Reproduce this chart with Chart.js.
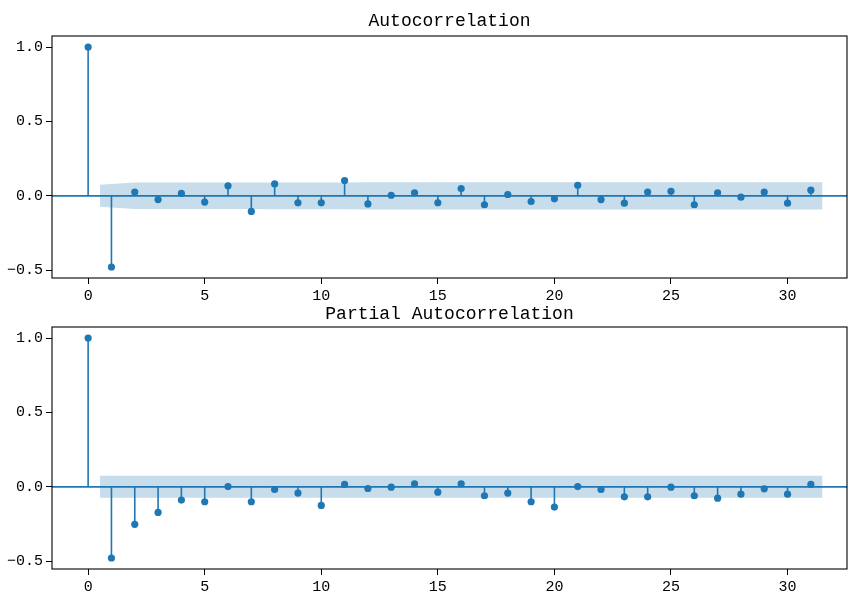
<!DOCTYPE html>
<html>
<head>
<meta charset="utf-8">
<script src="https://cdn.jsdelivr.net/npm/chart.js@4.4.1/dist/chart.umd.min.js"></script>
<style>
  html, body { margin: 0; padding: 0; background: #fff; }
  #wrap { position: relative; width: 849px; height: 594px; overflow: hidden; }
  .box { position: absolute; left: 0; width: 849px; }
  #topBox { top: 0; height: 310px; }
  #botBox { top: 297px; height: 297px; }
</style>
</head>
<body>
<div id="wrap">
  <div class="box" id="topBox"><canvas id="acfChart"></canvas></div>
  <div class="box" id="botBox"><canvas id="pacfChart"></canvas></div>
</div>
<script>
// data baca dari gambar
const lags = [0, 1, 2, 3, 4, 5, 6, 7, 8, 9, 10, 11, 12, 13, 14, 15, 16, 17, 18, 19, 20, 21, 22, 23, 24, 25, 26, 27, 28, 29, 30, 31];

const acfValues = [1.0, -0.478, 0.025, -0.025, 0.016, -0.042, 0.067, -0.105, 0.080, -0.047, -0.047,
    0.103, -0.054, 0.004, 0.020, -0.047, 0.049, -0.060, 0.009, -0.038, -0.020,
    0.071, -0.025, -0.049, 0.025, 0.031, -0.060, 0.020, -0.009, 0.025, -0.049, 0.038];

const pacfValues = [1.0, -0.478, -0.252, -0.172, -0.089, -0.100, 0.002, -0.100, -0.018, -0.042, -0.125,
    0.016, -0.011, -0.002, 0.020, -0.036, 0.020, -0.060, -0.042, -0.100, -0.136,
    0.002, -0.018, -0.067, -0.067, -0.002, -0.060, -0.076, -0.049, -0.013, -0.049, 0.016];

// posisi pita confidence (lag 1 geser ke 0.5, lag terakhir ke 31.5)
const bandLags = [0.5, 2, 3, 4, 5, 6, 7, 8, 9, 10, 11, 12, 13, 14, 15, 16, 17, 18, 19, 20,
    21, 22, 23, 24, 25, 26, 27, 28, 29, 30, 31.5];

const acfBand = [0.074, 0.089, 0.089, 0.089, 0.089, 0.089, 0.089, 0.090, 0.090, 0.090, 0.090,
    0.091, 0.091, 0.091, 0.091, 0.091, 0.091, 0.091, 0.092, 0.092, 0.092,
    0.092, 0.092, 0.092, 0.092, 0.092, 0.092, 0.092, 0.092, 0.092, 0.092];

const pacfBand = [0.074, 0.074, 0.074, 0.074, 0.074, 0.074, 0.074, 0.074, 0.074, 0.074, 0.074,
    0.074, 0.074, 0.074, 0.074, 0.074, 0.074, 0.074, 0.074, 0.074, 0.074,
    0.074, 0.074, 0.074, 0.074, 0.074, 0.074, 0.074, 0.074, 0.074, 0.074];

const xTicks = [0, 5, 10, 15, 20, 25, 30];
const yTicks = [-0.5, 0.0, 0.5, 1.0];
const xMin = -1.55, xMax = 32.55;
const yMin = -0.552, yMax = 1.074;

const blue = '#1f77b4';
const bandColor = 'rgba(31, 119, 180, 0.25)';
const tickFont = { family: 'Liberation Mono', size: 15 };
const titleFont = { family: 'Liberation Mono', size: 18, weight: 'normal' };

// kotak frame di sekeliling area chart
const framePlugin = {
    id: 'frame',
    afterDraw(chart) {
        const a = chart.chartArea;
        const ctx = chart.ctx;
        ctx.save();
        ctx.strokeStyle = '#000';
        ctx.lineWidth = 1.1;
        ctx.strokeRect(a.left, a.top, a.right - a.left, a.bottom - a.top);
        ctx.restore();
    }
};

function makeChart(id, title, values, band, titlePad, xHeight) {
    var stems = [];
    var points = [];
    for (var i = 0; i < lags.length; i++) {
        stems.push({ x: lags[i], y: 0 });
        stems.push({ x: lags[i], y: values[i] });
        stems.push({ x: lags[i], y: null });
        points.push({ x: lags[i], y: values[i] });
    }
    var upper = [], lower = [];
    for (var j = 0; j < bandLags.length; j++) {
        upper.push({ x: bandLags[j], y: band[j] });
        lower.push({ x: bandLags[j], y: -band[j] });
    }

    const ctx = document.getElementById(id).getContext('2d');
    return new Chart(ctx, {
        type: 'scatter',
        data: {
            datasets: [{
                    type: 'scatter',
                    data: points,
                    backgroundColor: blue,
                    borderColor: blue,
                    pointRadius: 3.6,
                    borderWidth: 0
                },
                {
                    type: 'line',
                    data: stems,
                    borderColor: blue,
                    borderWidth: 1.6,
                    pointRadius: 0,
                    spanGaps: false,
                    fill: false
                },
                {
                    type: 'line',
                    data: [{ x: xMin, y: 0 }, { x: xMax, y: 0 }],
                    borderColor: blue,
                    borderWidth: 1.6,
                    pointRadius: 0,
                    fill: false
                },
                {
                    type: 'line',
                    data: upper,
                    borderWidth: 0,
                    borderColor: 'rgba(0,0,0,0)',
                    backgroundColor: bandColor,
                    pointRadius: 0,
                    fill: '+1'
                },
                {
                    type: 'line',
                    data: lower,
                    borderWidth: 0,
                    borderColor: 'rgba(0,0,0,0)',
                    pointRadius: 0,
                    fill: false
                }
            ]
        },
        options: {
            responsive: true,
            maintainAspectRatio: false,
            animation: false,
            layout: {
                autoPadding: false,
                padding: { left: 0, right: 2, top: 0, bottom: 0 }
            },
            plugins: {
                legend: { display: false },
                tooltip: { enabled: false },
                title: {
                    display: true,
                    fullSize: false,
                    text: title,
                    color: '#000',
                    font: titleFont,
                    padding: titlePad
                }
            },
            scales: {
                x: {
                    type: 'linear',
                    min: xMin,
                    max: xMax,
                    afterFit: function(s) { s.height = xHeight; },
                    afterBuildTicks: function(s) { s.ticks = xTicks.map(v => ({ value: v })); },
                    ticks: {
                        color: '#000',
                        font: tickFont,
                        padding: 3,
                        maxRotation: 0,
                        callback: v => String(v)
                    },
                    grid: { drawOnChartArea: false, drawTicks: true, tickLength: 6, color: '#000' },
                    border: { display: false }
                },
                y: {
                    min: yMin,
                    max: yMax,
                    afterFit: function(s) { s.width = 52; },
                    afterBuildTicks: function(s) { s.ticks = yTicks.map(v => ({ value: v })); },
                    ticks: {
                        color: '#000',
                        font: tickFont,
                        padding: 3,
                        callback: v => (v < 0 ? '\u2212' : '') + Math.abs(v).toFixed(1)
                    },
                    grid: { drawOnChartArea: false, drawTicks: true, tickLength: 6, color: '#000' },
                    border: { display: false }
                }
            }
        },
        plugins: [framePlugin]
    });
}

makeChart('acfChart', 'Autocorrelation', acfValues, acfBand, { top: 10.2, bottom: 4.2 }, 32);
makeChart('pacfChart', 'Partial Autocorrelation', pacfValues, pacfBand, { top: 6.2, bottom: 2.2 }, 25);
</script>
</body>
</html>
